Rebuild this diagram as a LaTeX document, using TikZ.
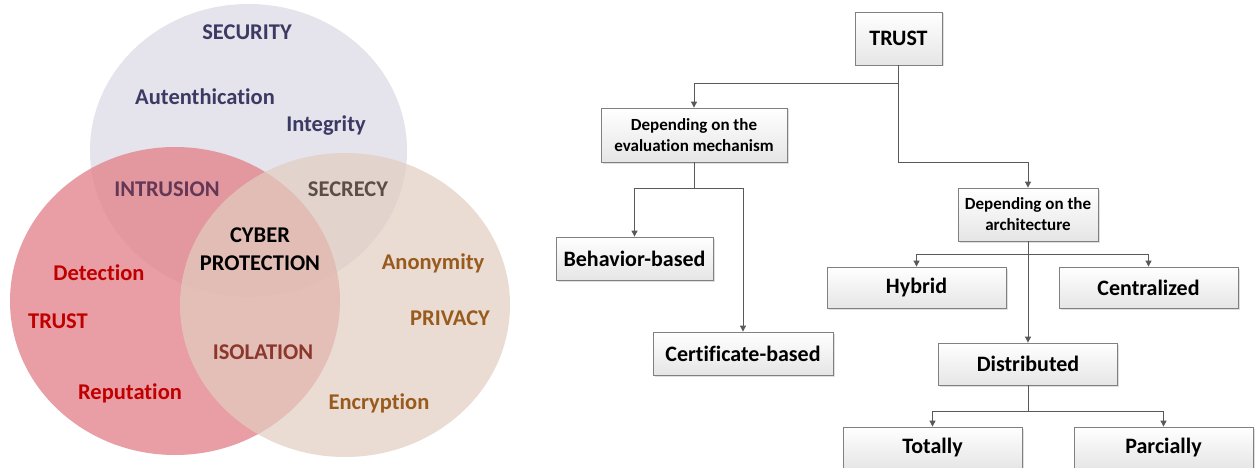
\documentclass[tikz,border=0pt]{standalone}
\usepackage{fontspec}
\setmainfont{Carlito}[Ligatures={NoCommon}]
\usetikzlibrary{arrows.meta,shadows}
\definecolor{secC}{HTML}{3B3A63}
\definecolor{trustC}{HTML}{C00000}
\definecolor{privC}{HTML}{985B1D}
\definecolor{topFill}{HTML}{E5E3EB}
\definecolor{redFill}{HTML}{E3868E}
\definecolor{begFill}{HTML}{E2CEC0}
\definecolor{lineC}{HTML}{595959}
\definecolor{boxBorder}{HTML}{808080}
\tikzset{
  vtext/.style={font=\fontsize{22.5}{28}\selectfont\bfseries, align=center, inner sep=0pt},
  box/.style={draw=boxBorder, line width=0.8pt, top color=white, bottom color=black!10,
    drop shadow={shadow xshift=1.5pt, shadow yshift=-1.5pt, opacity=0.25},
    inner sep=0pt, align=center},
  bigtxt/.style={font=\fontsize{22}{26}\selectfont\bfseries},
  smalltxt/.style={font=\fontsize{17}{21}\selectfont\bfseries},
  arr/.style={draw=lineC, line width=0.9pt, -{Triangle[length=6pt,width=6pt]}},
  ln/.style={draw=lineC, line width=0.9pt}
}
\begin{document}
\begin{tikzpicture}[x=1pt,y=-1pt]
\useasboundingbox (0,0) rectangle (1260,468);
\fill[white] (0,0) rectangle (1260,468);
% Venn
\fill[topFill] (248.5,150.5) ellipse [x radius=158.5, y radius=146.5];
\fill[redFill, fill opacity=0.8] (175,301) ellipse [x radius=165, y radius=154];
\fill[begFill, fill opacity=0.7] (345,305) ellipse [x radius=165, y radius=152];

\node[vtext, text=secC] (security) at (247,32) {SECURITY};
\node[vtext, text=secC] (auth) at (205,97) {Autenthication};
\node[vtext, text=secC] (integrity) at (326,126) {Integrity};
\node[vtext, text={rgb,255:red,100;green,55;blue,85}] (intrusion) at (167,189) {INTRUSION};
\node[vtext, text={rgb,255:red,90;green,78;blue,70}] (secrecy) at (348,189) {SECRECY};
\node[vtext, text=black] (cyber) at (260,249) {CYBER\\PROTECTION};
\node[vtext, text=privC] (anon) at (433,263) {Anonymity};
\node[vtext, text=trustC] (detection) at (99,273) {Detection};
\node[vtext, text=trustC] (trustv) at (58,321) {TRUST};
\node[vtext, text=privC] (privacy) at (450,318) {PRIVACY};
\node[vtext, text={rgb,255:red,140;green,55;blue,45}] (isolation) at (263,352) {ISOLATION};
\node[vtext, text=trustC] (reputation) at (130,393) {Reputation};
\node[vtext, text=privC] (encryption) at (379,403) {Encryption};

% Tree
\node[box, bigtxt, minimum width=87pt, minimum height=53pt] (trust) at (898.5,38.5) {TRUST};
\node[box, smalltxt, minimum width=186pt, minimum height=54pt] (eval) at (694,135) {Depending on the\\evaluation mechanism};
\node[box, bigtxt, minimum width=157pt, minimum height=43pt] (beh) at (634.5,258.5) {Behavior-based};
\node[box, bigtxt, minimum width=180pt, minimum height=43pt] (cert) at (743,353.5) {Certificate-based};
\node[box, smalltxt, minimum width=140pt, minimum height=53pt] (arch) at (1028,214.5) {Depending on the\\architecture};
\node[box, bigtxt, minimum width=179pt, minimum height=41pt] (hyb) at (916.5,287.5) {Hybrid};
\node[box, bigtxt, minimum width=179pt, minimum height=41pt] (cen) at (1148.5,287.5) {Centralized};
\node[box, bigtxt, minimum width=179pt, minimum height=42pt] (dist) at (1028,364) {Distributed};
\node[box, bigtxt, minimum width=179pt, minimum height=42pt] (tot) at (932.5,448) {Totally};
\node[box, bigtxt, minimum width=179pt, minimum height=42pt] (par) at (1163.5,448) {Parcially};

\draw[arr] (trust.south) -- ++(0,18) -| (eval.north);
\draw[arr] (trust.south) -- ++(0,97) -| (arch.north);
\draw[arr] (eval.south) -- ++(0,26) -| (beh.north);
\draw[arr] (eval.south) -- ++(0,26) -| (cert.north);
\draw[arr] (arch.south) -- ++(0,13) -| (hyb.north);
\draw[arr] (arch.south) -- ++(0,13) -| (cen.north);
\draw[arr] (arch.south) -- (dist.north);
\draw[arr] (dist.south) -- ++(0,26) -| (tot.north);
\draw[arr] (dist.south) -- ++(0,26) -| (par.north);
\end{tikzpicture}
\end{document}
